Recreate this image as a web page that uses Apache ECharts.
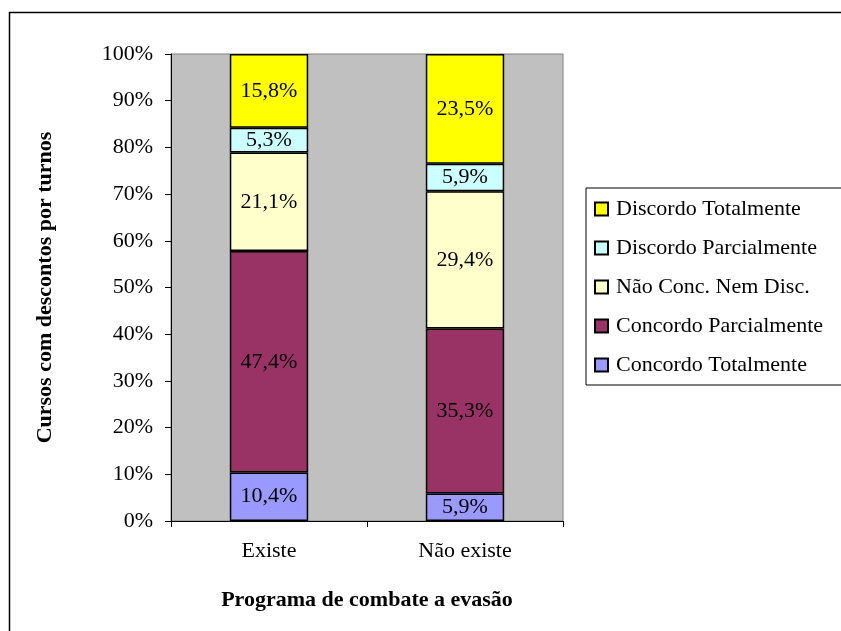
<!DOCTYPE html>
<html><head><meta charset="utf-8">
<script src="https://cdn.jsdelivr.net/npm/echarts@6/dist/echarts.min.js"></script>
<style>html,body{margin:0;padding:0;background:#fff}#c{width:841px;height:631px}</style>
</head><body><div id="c"></div>
<script>
const categories = ['Existe', 'Não existe'];
const seriesNames = ['Concordo Totalmente', 'Concordo Parcialmente', 'Não Conc. Nem Disc.', 'Discordo Parcialmente', 'Discordo Totalmente'];
const concordoTotalmente = [10.4, 5.9];
const concordoParcialmente = [47.4, 35.3];
const naoConcNemDisc = [21.1, 29.4];
const discordoParcialmente = [5.3, 5.9];
const discordoTotalmente = [15.8, 23.5];
const colors = ['#9999FF', '#993366', '#FFFFCC', '#CCFFFF', '#FFFF00'];
const values = [concordoTotalmente, concordoParcialmente, naoConcNemDisc, discordoParcialmente, discordoTotalmente];
const font = 'Liberation Serif, Times New Roman, serif';

const chart = echarts.init(document.getElementById('c'), null, {renderer: 'canvas'});
chart.setOption({
  animation: false,
  textStyle: {fontFamily: font, color: '#000'},
  graphic: [{type: 'rect', shape: {x: 9.5, y: 12.5, width: 900, height: 700}, style: {fill: null, stroke: '#000', lineWidth: 1.5}, z: -10}],
  grid: {left: 171, top: 54, width: 392, height: 467, show: true, backgroundColor: '#C0C0C0', borderColor: '#808080', borderWidth: 1},
  legend: {
    orient: 'vertical', left: 586, top: 188,
    data: seriesNames.slice().reverse(),
    icon: 'rect',
    itemWidth: 13, itemHeight: 13, itemGap: 17,
    borderColor: '#000', borderWidth: 1,
    padding: [10, 60, 9, 8],
    textStyle: {fontFamily: font, fontSize: 22, color: '#000', padding: [0, 0, 0, 3]}
  },
  xAxis: {
    type: 'category', data: categories,
    axisLine: {lineStyle: {color: '#000', width: 1}},
    axisTick: {show: true, length: 6, lineStyle: {color: '#000'}},
    axisLabel: {fontFamily: font, fontSize: 22, color: '#000', margin: 19},
    name: 'Programa de combate a evasão', nameLocation: 'middle', nameGap: 68,
    nameTextStyle: {fontFamily: font, fontSize: 22, fontWeight: 'bold', color: '#000'}
  },
  yAxis: {
    type: 'value', min: 0, max: 100, interval: 10,
    axisLine: {show: true, lineStyle: {color: '#000', width: 1}},
    axisTick: {show: true, length: 6, lineStyle: {color: '#000'}},
    splitLine: {show: false},
    axisLabel: {fontFamily: font, fontSize: 22, color: '#000', margin: 18, formatter: '{value}%'},
    name: 'Cursos com descontos por turnos', nameLocation: 'middle', nameGap: 115, nameRotate: 90,
    nameTextStyle: {fontFamily: font, fontSize: 22, fontWeight: 'bold', color: '#000'}
  },
  series: seriesNames.map((n, i) => ({
    name: n, type: 'bar', stack: 'total', barWidth: '40%',
    data: values[i],
    itemStyle: {color: colors[i], borderColor: '#000', borderWidth: 1.5},
    label: {show: true, position: 'inside', fontFamily: font, fontSize: 22, color: '#000',
      formatter: p => p.value.toFixed(1).replace('.', ',') + '%'}
  }))
});
</script></body></html>
